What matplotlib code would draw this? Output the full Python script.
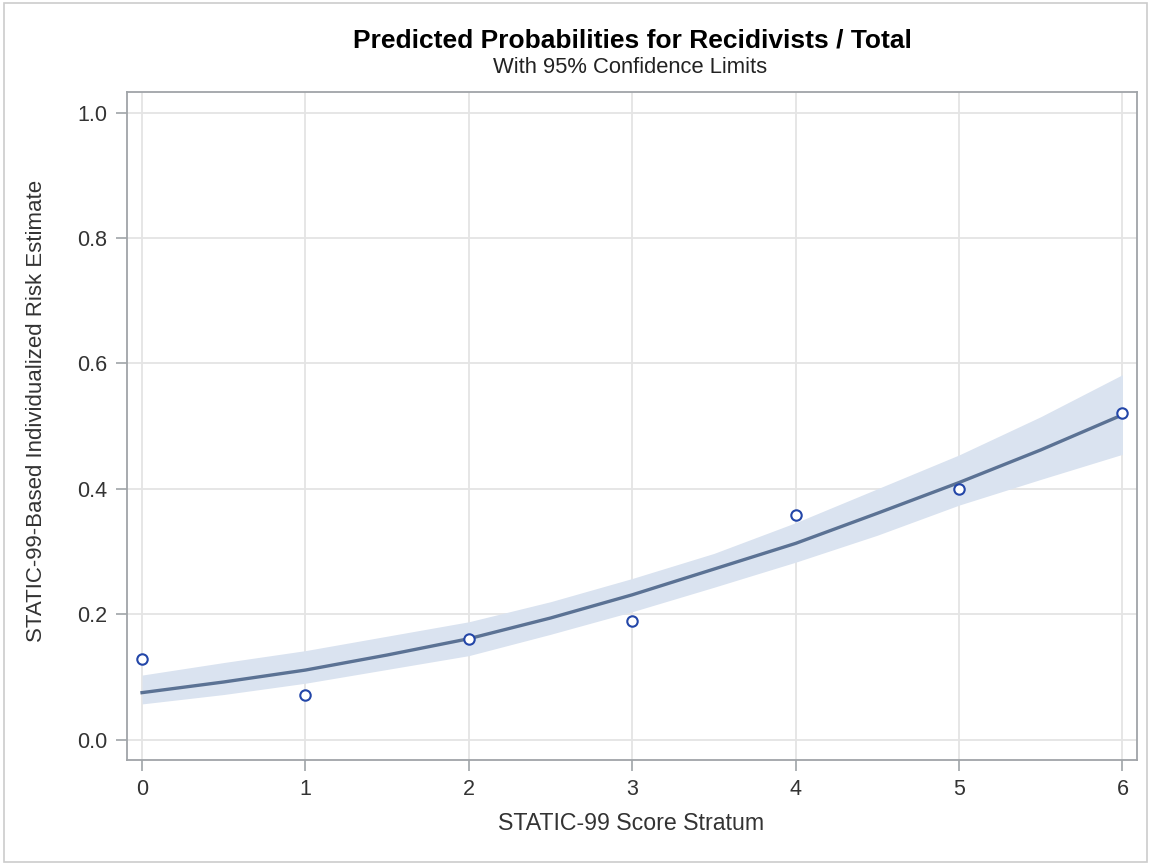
import matplotlib.pyplot as plt
from matplotlib.patches import Rectangle

# observed proportions per stratum
score = [0, 1, 2, 3, 4, 5, 6]
observed = [0.129, 0.072, 0.161, 0.189, 0.359, 0.400, 0.521]

# fitted curve and 95% limits
grid_x = [0, 0.5, 1, 1.5, 2, 2.5, 3, 3.5, 4, 4.5, 5, 5.5, 6]
fit = [0.075, 0.092, 0.111, 0.135, 0.161, 0.194, 0.231, 0.272, 0.313, 0.361, 0.410, 0.462, 0.518]
lcl = [0.057, 0.072, 0.090, 0.112, 0.134, 0.168, 0.204, 0.243, 0.283, 0.326, 0.374, 0.415, 0.455]
ucl = [0.103, 0.123, 0.142, 0.165, 0.188, 0.220, 0.257, 0.297, 0.346, 0.400, 0.454, 0.515, 0.582]

yticks = [0.0, 0.2, 0.4, 0.6, 0.8, 1.0]

plt.rcParams['font.family'] = ['Liberation Sans', 'DejaVu Sans']

W, H = 1151, 864
fig = plt.figure(figsize=(W / 100, H / 100), dpi=100)
ax = fig.add_axes([127 / W, 1 - 760 / H, 1010 / W, 668 / H])

ax.fill_between(grid_x, lcl, ucl, color='#dae3f0', lw=0, zorder=1)
ax.plot(grid_x, fit, color='#5b7294', lw=2.4, zorder=2)
ax.plot(score, observed, 'o', mfc='white', mec='#2346a8', mew=1.5, ms=7.5, zorder=3)

ax.set_xlim(-0.092, 6.089)
ax.set_ylim(-0.0324, 1.0327)
ax.set_xticks(score)
ax.set_yticks(yticks)
ax.set_yticklabels([f'{v:.1f}' for v in yticks])
ax.grid(True, color='#e4e4e4', lw=1.3, zorder=0)
ax.set_axisbelow(True)

for s in ax.spines.values():
    s.set_color('#a0a4a8')
    s.set_linewidth(1.3)
ax.tick_params(direction='out', length=7.7, width=1.2, color='#a0a4a8',
               labelsize=15.5, labelcolor='#333333')
ax.tick_params(axis='x', pad=5.8)
ax.tick_params(axis='y', pad=6.7)

fig.text(631 / W, 1 - 830 / H, 'STATIC-99 Score Stratum', ha='center', va='baseline',
         fontsize=16.7, color='#333333')
fig.text(37 / W, 1 - 411 / H, 'STATIC-99-Based Individualized Risk Estimate',
         rotation=90, ha='center', va='center', fontsize=16, color='#333333')

fig.text(632 / W, 1 - 47 / H, 'Predicted Probabilities for Recidivists / Total',
         ha='center', va='baseline', fontsize=19, fontweight='bold')
fig.text(630.5 / W, 1 - 73 / H, 'With 95% Confidence Limits', ha='center', va='baseline',
         fontsize=15.8, color='#222222')

fig.add_artist(Rectangle((4 / W, 2 / H), 1 - 8 / W, 1 - 5 / H, transform=fig.transFigure,
                         fill=False, ec='#cccccc', lw=1.2))

fig.savefig('out.png', dpi=100)
